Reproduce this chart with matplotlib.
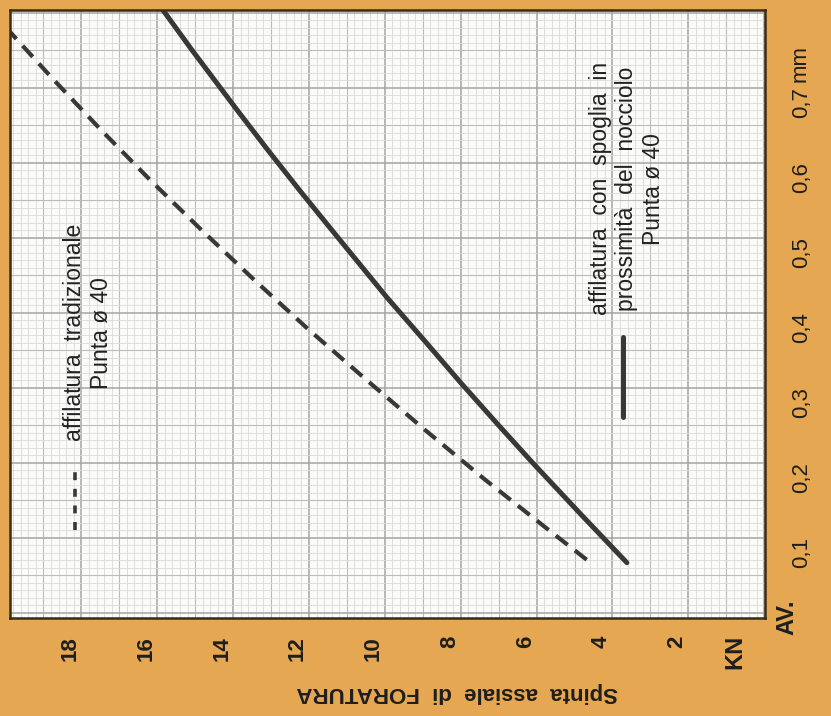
import numpy as np
import matplotlib
matplotlib.use('Agg')
import matplotlib.pyplot as plt
from matplotlib.lines import Line2D

# Dati (avanzamento in mm, spinta in KN)
avanzamento_trad = [0.091, 0.131, 0.197, 0.264, 0.331, 0.397, 0.464, 0.531,
                    0.597, 0.664, 0.731, 0.797]
spinta_trad = [4.38, 5.39, 7.04, 8.64, 10.19, 11.69, 13.14, 14.54,
               15.88, 17.18, 18.43, 19.62]

avanzamento_spoglia = [0.087, 0.153, 0.22, 0.273, 0.327, 0.384, 0.441, 0.527,
                       0.58, 0.637, 0.691, 0.771, 0.824, 0.83]
spinta_spoglia = [3.32, 4.56, 5.8, 6.75, 7.7, 8.67, 9.65, 11.04,
                  11.89, 12.78, 13.6, 14.79, 15.55, 15.65]

spinta_ticks = [2, 4, 6, 8, 10, 12, 14, 16, 18]
avanzamento_ticks = [0.1, 0.2, 0.3, 0.4, 0.5, 0.6, 0.7]
avanzamento_labels = ['0,1', '0,2', '0,3', '0,4', '0,5', '0,6', '0,7']

arancio = '#e6a752'
scuro = '#383838'
testo = '#1e1e1e'
plt.rcParams['font.family'] = ['Liberation Sans', 'DejaVu Sans']

W, H = 831, 716
fig = plt.figure(figsize=(W / 100, H / 100), dpi=100, facecolor=arancio)
ax = fig.add_axes([10 / W, 1 - 618 / H, 755 / W, 608 / H])
ax.set_facecolor('#fbfbf9')

# carta millimetrata (leggermente sfasata rispetto alle etichette, come nella stampa)
for i, v in enumerate(np.arange(-0.3, 20.0, 0.2)):
    k = i % 10
    c, lw = ('#a4a4a4', 1.1) if k == 0 else (('#bcbcbc', 0.8) if k == 5 else ('#dadada', 0.6))
    ax.axvline(v, color=c, lw=lw, zorder=0)
for i, v in enumerate(np.arange(0.02, 0.83, 0.01)):
    k = i % 10
    c, lw = ('#a4a4a4', 1.1) if k == 0 else (('#bcbcbc', 0.8) if k == 5 else ('#dadada', 0.6))
    ax.axhline(v, color=c, lw=lw, zorder=0)

# curve
ax.plot(spinta_spoglia, avanzamento_spoglia, color=scuro, lw=3.6,
        solid_capstyle='round', solid_joinstyle='round')
ax.plot(spinta_trad, avanzamento_trad, color=scuro, lw=3, dashes=(3.6, 2.2))

ax.set_xlim(19.58, -0.32)
ax.set_ylim(0.0133, 0.824)

ax.set_xticks(spinta_ticks)
ax.set_xticklabels([str(v) for v in spinta_ticks], rotation=90, fontweight='bold', fontsize=16)
ax.tick_params(axis='x', length=0, pad=13, colors=testo)
ax.yaxis.tick_right()
ax.set_yticks(avanzamento_ticks)
ax.set_yticklabels(avanzamento_labels, rotation=90, fontsize=16, va='center')
ax.tick_params(axis='y', length=0, pad=19, colors=testo)

for s in ax.spines.values():
    s.set_color('#3b2c14')
    s.set_linewidth(1.8)

# legende
ax.text(0.103, 0.469, 'affilatura  tradizionale\nPunta ø 40', transform=ax.transAxes,
        rotation=90, ha='center', va='center', multialignment='center',
        fontsize=16.5, linespacing=1.2, color='#222222')
ax.add_line(Line2D([0.086, 0.086], [0.145, 0.243], transform=ax.transAxes,
                   color=scuro, lw=2.6, dashes=(2.2, 2.4)))
ax.text(0.817, 0.706, 'affilatura  con  spoglia  in\nprossimità  del  nocciolo\nPunta ø 40',
        transform=ax.transAxes, rotation=90, ha='center', va='center',
        multialignment='center', fontsize=16.5, linespacing=1.2, color='#222222')
ax.add_line(Line2D([0.812, 0.812], [0.331, 0.462], transform=ax.transAxes,
                   color=scuro, lw=3.6, solid_capstyle='round'))

# testi esterni
fig.text(735 / W, 1 - 652 / H, 'KN', rotation=90, ha='center', va='center',
         fontsize=17, fontweight='bold', color=testo)
fig.text(787 / W, 1 - 617 / H, 'AV.', rotation=90, ha='center', va='center',
         fontsize=17, fontweight='bold', color=testo)
fig.text(800 / W, 1 - 64 / H, 'mm', rotation=90, ha='center', va='center',
         fontsize=16, color=testo)
fig.text(-6 / W, 1 - 652 / H, '20', rotation=90, ha='center', va='center',
         fontsize=16, fontweight='bold', color=testo)
fig.text(457 / W, 1 - 692 / H, 'Spinta  assiale  di  FORATURA', rotation=180,
         ha='center', va='center', fontsize=16, fontweight='bold', color=testo)

fig.savefig('out.png', dpi=100, facecolor=arancio)
